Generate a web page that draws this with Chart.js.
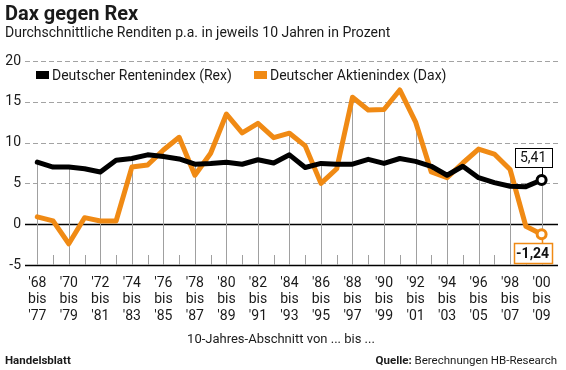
<!DOCTYPE html>
<html>
<head>
<meta charset="utf-8">
<script src="https://cdn.jsdelivr.net/npm/chart.js@4"></script>
<style>
  html, body { margin: 0; padding: 0; background: #fff; }
  #wrap { position: relative; width: 566px; height: 370px; overflow: hidden; font-family: Roboto, "Liberation Sans", sans-serif; color: #1a1a1a; }
  #c { position: absolute; left: 0; top: 0; }
  .t { position: absolute; white-space: nowrap; }
  #title { left: 5px; top: 1px; font-size: 20px; font-weight: bold; }
  #sub { left: 5px; top: 24px; font-size: 14px; }
  .lg { position: absolute; top: 67px; font-size: 14px; white-space: nowrap; line-height: 16px; }
  .lg span.sw { display: inline-block; width: 13px; height: 8px; margin-right: 3px; vertical-align: 1px; }
  #xt { left: 0; width: 562px; text-align: center; top: 331px; font-size: 13px; }
  #f1 { left: 5px; top: 353px; font-size: 11.5px; font-weight: bold; }
  #f2 { right: 9px; top: 353px; font-size: 11.5px; }
</style>
</head>
<body>
<div id="wrap">
  <canvas id="c" width="566" height="370"></canvas>
  <div class="t" id="title">Dax gegen Rex</div>
  <div class="t" id="sub">Durchschnittliche Renditen p.a. in jeweils 10 Jahren in Prozent</div>
  <div class="lg" style="left:36px"><span class="sw" style="background:#000"></span>Deutscher Rentenindex (Rex)</div>
  <div class="lg" style="left:254px"><span class="sw" style="background:#F08A14"></span>Deutscher Aktienindex (Dax)</div>
  <div class="t" id="xt">10-Jahres-Abschnitt von ... bis ...</div>
  <div class="t" id="f1">Handelsblatt</div>
  <div class="t" id="f2"><b>Quelle:</b> Berechnungen HB-Research</div>
</div>
<script>
// ---- data ----
const periodStart = ["'68","'69","'70","'71","'72","'73","'74","'75","'76","'77","'78","'79","'80","'81","'82","'83","'84","'85","'86","'87","'88","'89","'90","'91","'92","'93","'94","'95","'96","'97","'98","'99","'00"];
const periodEnd   = ["'77","'78","'79","'80","'81","'82","'83","'84","'85","'86","'87","'88","'89","'90","'91","'92","'93","'94","'95","'96","'97","'98","'99","'00","'01","'02","'03","'04","'05","'06","'07","'08","'09"];
const rex = [7.6, 7.0, 7.0, 6.8, 6.4, 7.85, 8.05, 8.5, 8.3, 8.0, 7.35, 7.45, 7.6, 7.35, 7.9, 7.5, 8.5, 6.95, 7.45, 7.35, 7.35, 7.95, 7.45, 8.05, 7.7, 7.1, 6.0, 7.1, 5.7, 5.1, 4.65, 4.6, 5.41];
const dax = [0.9, 0.4, -2.4, 0.8, 0.4, 0.4, 7.0, 7.25, 9.1, 10.65, 6.0, 8.7, 13.5, 11.2, 12.35, 10.6, 11.15, 9.6, 5.0, 6.8, 15.55, 14.0, 14.05, 16.45, 12.55, 6.4, 5.7, 7.5, 9.2, 8.6, 6.7, -0.25, -1.24];
const yTicks = [-5, 0, 5, 10, 15, 20];
const seriesNames = ["Deutscher Rentenindex (Rex)", "Deutscher Aktienindex (Dax)"];
const endLabels = ["5,41", "-1,24"];

const ORANGE = '#F08A14';
const last = rex.length - 1;

function lastOnly(v) { return (ctx) => ctx.dataIndex === last ? v : 0; }

const gridPlugin = {
  id: 'customGrid',
  beforeDatasetsDraw(chart) {
    const { ctx, chartArea: a, scales: { x, y } } = chart;
    ctx.save();
    yTicks.forEach(v => {
      const py = Math.round(y.getPixelForValue(v)) + 0.5;
      ctx.beginPath();
      if (v > 0) {
        ctx.setLineDash([5, 3]);
        ctx.strokeStyle = '#a3a3a3';
        ctx.lineWidth = 1;
      } else {
        ctx.setLineDash([]);
        ctx.strokeStyle = '#000';
        ctx.lineWidth = 1.4;
      }
      ctx.moveTo(a.left, py);
      ctx.lineTo(a.right, py);
      ctx.stroke();
    });
    ctx.setLineDash([]);
    ctx.strokeStyle = '#a0a0a0';
    ctx.lineWidth = 1;
    const yb = y.getPixelForValue(yTicks[0]);
    rex.forEach((r, i) => {
      const px = Math.round(x.getPixelForValue(i)) + 0.5;
      ctx.beginPath();
      if (i % 2 === 0) {
        ctx.moveTo(px, y.getPixelForValue(Math.max(r, dax[i])));
      } else {
        ctx.moveTo(px, yb - 10);
      }
      ctx.lineTo(px, yb);
      ctx.stroke();
    });
    ctx.restore();
  },
  afterDatasetsDraw(chart) {
    const { ctx, scales: { x, y } } = chart;
    const px = x.getPixelForValue(last);
    ctx.save();
    ctx.font = '14px Roboto, "Liberation Sans", sans-serif';
    ctx.textAlign = 'center';
    ctx.textBaseline = 'middle';
    let py = y.getPixelForValue(rex[last]);
    let bx = px - 27, bw = 37, bh = 19, by = py - 13 - bh;
    ctx.strokeStyle = '#000'; ctx.lineWidth = 1;
    ctx.beginPath(); ctx.moveTo(Math.round(px) + 0.5, by + bh); ctx.lineTo(Math.round(px) + 0.5, py - 5); ctx.stroke();
    ctx.fillStyle = '#fff'; ctx.fillRect(bx, by, bw, bh);
    ctx.strokeRect(Math.round(bx) + 0.5, Math.round(by) + 0.5, bw, bh);
    ctx.fillStyle = '#111'; ctx.fillText(endLabels[0], bx + bw / 2, by + bh / 2 + 1);
    py = y.getPixelForValue(dax[last]);
    by = py + 9; bh = 20; bw = 38; bx = px - 28;
    ctx.strokeStyle = ORANGE; ctx.lineWidth = 1.5;
    ctx.beginPath(); ctx.moveTo(Math.round(px) + 0.5, py + 5); ctx.lineTo(Math.round(px) + 0.5, by); ctx.stroke();
    ctx.fillStyle = '#fff'; ctx.fillRect(bx, by, bw, bh);
    ctx.strokeRect(Math.round(bx) + 0.5, Math.round(by) + 0.5, bw, bh);
    ctx.font = 'bold 14px Roboto, "Liberation Sans", sans-serif';
    ctx.fillStyle = '#111'; ctx.fillText(endLabels[1], bx + bw / 2, by + bh / 2 + 1);
    ctx.restore();
  }
};

new Chart(document.getElementById('c'), {
  type: 'line',
  data: {
    datasets: [
      {
        label: seriesNames[0],
        data: rex.map((v, i) => ({ x: i, y: v })),
        borderColor: '#000', borderWidth: 5, tension: 0,
        borderJoinStyle: 'round', borderCapStyle: 'round',
        pointRadius: lastOnly(4.5), pointBorderWidth: 3,
        pointBackgroundColor: '#fff', pointBorderColor: '#000'
      },
      {
        label: seriesNames[1],
        data: dax.map((v, i) => ({ x: i, y: v })),
        borderColor: ORANGE, borderWidth: 5, tension: 0,
        borderJoinStyle: 'round', borderCapStyle: 'round',
        pointRadius: lastOnly(4.5), pointBorderWidth: 3,
        pointBackgroundColor: '#fff', pointBorderColor: ORANGE
      }
    ]
  },
  options: {
    responsive: false,
    animation: false,
    layout: { padding: { top: 61, right: 8, bottom: 25, left: 0 } },
    plugins: { legend: { display: false }, tooltip: { enabled: false } },
    scales: {
      x: {
        type: 'linear', min: -0.78, max: 33.04,
        afterFit: s => { s.height = 80; },
        afterBuildTicks: s => { s.ticks = periodStart.map((p, i) => ({ value: i })).filter(t => t.value % 2 === 0); },
        ticks: {
          autoSkip: false, maxRotation: 0, padding: 10,
          color: '#1a1a1a',
          font: { family: 'Roboto, "Liberation Sans", sans-serif', size: 14, lineHeight: 1.19 },
          callback: (v) => [periodStart[v], 'bis', periodEnd[v]]
        },
        grid: { display: false, drawTicks: false },
        border: { display: false }
      },
      y: {
        min: yTicks[0], max: yTicks[yTicks.length - 1],
        afterFit: s => { s.width = 25; },
        afterBuildTicks: s => { s.ticks = yTicks.map(v => ({ value: v })); },
        ticks: {
          padding: 4, color: '#1a1a1a',
          font: { family: 'Roboto, "Liberation Sans", sans-serif', size: 14 }
        },
        grid: { display: false, drawTicks: false },
        border: { display: false }
      }
    }
  },
  plugins: [gridPlugin]
});
</script>
</body>
</html>
